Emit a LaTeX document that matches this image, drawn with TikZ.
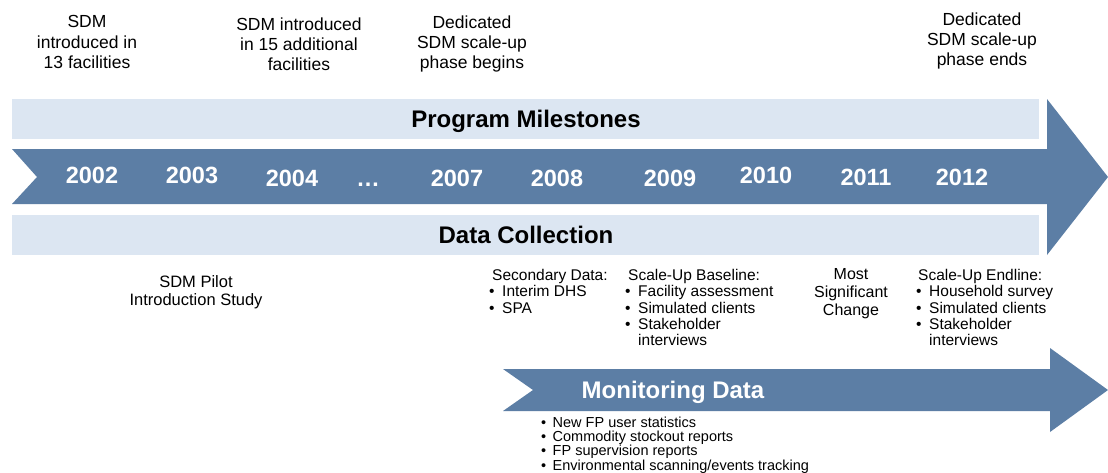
\documentclass[tikz,border=0pt]{standalone}
\usepackage{fontspec}
\setmainfont{Liberation Sans}
\definecolor{arrowblue}{RGB}{92,126,165}
\definecolor{bandblue}{RGB}{220,230,242}
\newcommand{\bul}{\makebox[13pt][l]{\textbullet}}
\newcommand{\mbul}{\makebox[11.5pt][l]{\textbullet}}
\begin{document}
\begin{tikzpicture}[x=1pt,y=-1pt,
  toptext/.style={anchor=north,align=center,inner sep=0pt,font=\fontsize{17.5}{20.2}\selectfont},
  lowtext/.style={anchor=north west,align=left,inner sep=0pt,font=\fontsize{15.5}{16.3}\selectfont},
  midtext/.style={anchor=north,align=center,inner sep=0pt,font=\fontsize{16}{18}\selectfont},
  montext/.style={anchor=north west,align=left,inner sep=0pt,font=\fontsize{14.5}{14.3}\selectfont},
  yearlabel/.style={anchor=base,inner sep=0pt,text=white,font=\fontsize{23.5}{26}\selectfont\bfseries},
  bandtitle/.style={anchor=base,inner sep=0pt,font=\fontsize{24}{28}\selectfont\bfseries},
  band/.style={fill=bandblue,draw=none},
  bigarrow/.style={fill=arrowblue,draw=none}]
\useasboundingbox (0,0) rectangle (1108,472);
\fill[white] (0,0) rectangle (1108,472);

% light bands
\path[band] (12,99) rectangle (1039,139);
\path[band] (12,215) rectangle (1039,255);

% main timeline arrow
\path[bigarrow] (12,149) -- (1047,149) -- (1047,99) -- (1108,177) -- (1047,255)
  -- (1047,204) -- (12,204) -- (37,177) -- cycle;

% monitoring arrow
\path[bigarrow] (503,369) -- (1050,369) -- (1050,348) -- (1108,390) -- (1050,432)
  -- (1050,411) -- (503,411) -- (533,390) -- cycle;

% band titles
\node[bandtitle] (pm) at (526,127) {Program Milestones};
\node[bandtitle] (dc) at (526,243) {Data Collection};
\node[bandtitle,text=white] (md) at (673,398.5) {Monitoring Data};

% years
\node[yearlabel] (y2002) at (92,183) {2002};
\node[yearlabel] (y2003) at (192,183) {2003};
\node[yearlabel] (y2004) at (292,186) {2004};
\node[yearlabel] (ydots) at (368,186) {\dots};
\node[yearlabel] (y2007) at (457,186) {2007};
\node[yearlabel] (y2008) at (557,186) {2008};
\node[yearlabel] (y2009) at (670,186) {2009};
\node[yearlabel] (y2010) at (766,183) {2010};
\node[yearlabel] (y2011) at (866,185) {2011};
\node[yearlabel] (y2012) at (962,185) {2012};

% milestones above
\node[toptext] (m1) at (87,15.5) {SDM\\introduced in\\13 facilities};
\node[toptext] (m2) at (299,17.5) {SDM introduced\\in 15 additional\\facilities};
\node[toptext] (m3) at (472,15.5) {Dedicated\\SDM scale-up\\phase begins};
\node[toptext] (m4) at (982,12.5) {Dedicated\\SDM scale-up\\phase ends};

% data collection below
\node[anchor=north,align=center,inner sep=0pt,font=\fontsize{16.5}{18}\selectfont] (pilot) at (196,275) {SDM Pilot\\Introduction Study};
\node[lowtext] (sec) at (489,269) {\hspace*{3pt}Secondary Data:\\\bul Interim DHS\\\bul SPA};
\node[lowtext] (base) at (625,269) {\hspace*{3pt}Scale-Up Baseline:\\\bul Facility assessment\\\bul Simulated clients\\\bul Stakeholder\\\hspace*{13pt}interviews};
\node[midtext] (msc) at (851,268) {Most\\Significant\\Change};
\node[lowtext] (end) at (916,269) {\hspace*{2pt}Scale-Up Endline:\\\bul Household survey\\\bul Simulated clients\\\bul Stakeholder\\\hspace*{13pt}interviews};

% monitoring list
\node[montext] (mon) at (541,416.5) {\mbul New FP user statistics\\\mbul Commodity stockout reports\\\mbul FP supervision reports\\\mbul Environmental scanning/events tracking};
\end{tikzpicture}
\end{document}
